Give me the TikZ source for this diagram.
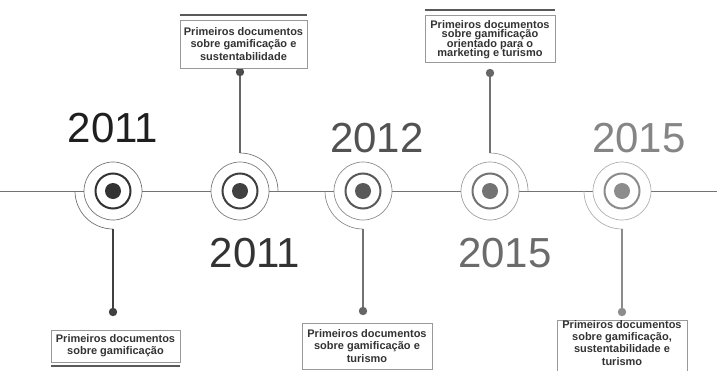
\documentclass[tikz,border=0pt]{standalone}
\usepackage{fontspec}
\setmainfont{Liberation Sans}
\usetikzlibrary{calc}
\newcommand\mytightlines{\lineskiplimit=-20pt\relax}
\begin{document}
\begin{tikzpicture}[x=1pt,y=-1pt,
  box/.style={draw=black!40,line width=0.8pt,fill=white,align=center,inner sep=0pt,
    font=\fontsize{11}{12.3}\selectfont\bfseries,text=black!80},
  boxtext/.style={align=center,inner sep=0pt,text=black!80},
  bar/.style={line width=2pt,draw=black!65},
  stem/.style={line width=1.1pt},
  year/.style={font=\fontsize{42}{44}\selectfont,inner sep=0pt},
  outring/.style={line width=0.7pt},
  midring/.style={line width=2pt}]
\useasboundingbox (0,0) rectangle (717,370);
\fill[white] (0,0) rectangle (717,370);
% main line
\coordinate (L) at (0,191);
\coordinate (R) at (717,191);
\draw[line width=1pt,black!55] (L) -- (R);
% targets: name, x, darkness, arc side
\foreach \n/\x/\c/\d in {t1/113/80/1, t2/240/75/-1, t3/363/65/1, t4/490/55/-1, t5/622/45/1}{
  \pgfmathtruncatemacro{\co}{\c*0.7}
  \coordinate (\n) at (\x,191);
  \fill[white] (\n) circle (29);
  \draw[outring,black!\co] (\n) circle (29);
  \draw[midring,black!\c] (\n) circle (17.5);
  \fill[black!\c] (\n) circle (8);
  \ifnum\d=1
    \draw[outring,black!\co] ($(\n)+(-38,0)$) arc[start angle=180,end angle=90,radius=38];
  \else
    \draw[outring,black!\co] ($(\n)+(0,-38)$) arc[start angle=270,end angle=360,radius=38];
  \fi
}
% stems and dots
\coordinate (d1) at (113,312);
\coordinate (d2) at (240,72);
\coordinate (d3) at (363,311);
\coordinate (d4) at (490,73);
\coordinate (d5) at (622,312);
\draw[stem,black!75] ($(t1)+(0,38)$) -- (d1);
\draw[stem,black!60] ($(t2)+(0,-38)$) -- (d2);
\draw[stem,black!55] ($(t3)+(0,38)$) -- (d3);
\draw[stem,black!55] ($(t4)+(0,-38)$) -- (d4);
\draw[stem,black!45] ($(t5)+(0,38)$) -- (d5);
\fill[black!75] (d1) circle (4.2);
\fill[black!70] (d2) circle (4.2);
\fill[black!60] (d3) circle (4.2);
\fill[black!60] (d4) circle (4.2);
\fill[black!45] (d5) circle (4.2);
% boxes
\node[box,minimum width=129pt,minimum height=32pt] (b1) at (115.5,346) {Primeiros documentos\\sobre gamificação};
\node[box,minimum width=127pt,minimum height=48pt] (b2) at (243.5,44) {Primeiros documentos\\sobre gamificação e\\sustentabilidade};
\node[box,minimum width=130pt,minimum height=46pt] (b3) at (367,346) {Primeiros documentos\\sobre gamificação e\\turismo};
\node[box,minimum width=130pt,minimum height=47pt] (b4) at (490,38.5) {};
\node[boxtext,anchor=base,font=\fontsize{11}{9.5}\selectfont\bfseries\mytightlines] (b4t) at (490,56.5) {Primeiros documentos\\sobre gamificação\\orientado para o\\marketing e turismo};
\node[box,minimum width=130pt,minimum height=60pt,anchor=north] (b5) at (622,320) {Primeiros documentos\\sobre gamificação,\\sustentabilidade e\\turismo\\[4pt]};
% thick bars
\draw[bar] ($(b1.south west)+(0,4)$) -- ($(b1.south east)+(0,4)$);
\draw[bar] ($(b2.north west)+(0,-5)$) -- ($(b2.north east)+(0,-5)$);
\draw[bar] ($(b4.north west)+(0,-5)$) -- ($(b4.north east)+(0,-5)$);
% years
\node[year,text=black!88] (y1) at (113,128) {2011};
\node[year,text=black!80] (y2) at (255,253) {2011};
\node[year,text=black!68] (y3) at (377,138) {2012};
\node[year,text=black!58] (y4) at (505,253) {2015};
\node[year,text=black!48] (y5) at (639,138) {2015};
\end{tikzpicture}
\end{document}
